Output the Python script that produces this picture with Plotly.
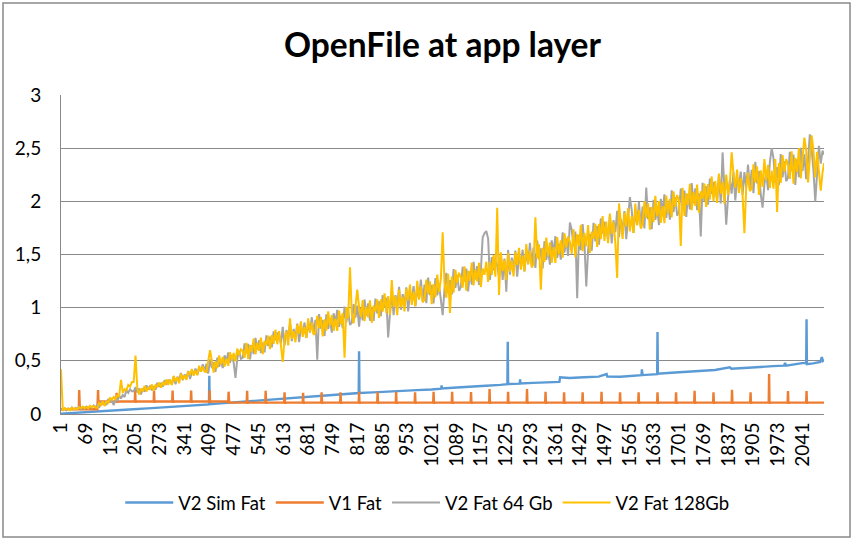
import plotly.graph_objects as go

# ---------------- data ----------------
tick_labels = ["1", "69", "137", "205", "273", "341", "409", "477", "545", "613",
               "681", "749", "817", "885", "953", "1021", "1089", "1157", "1225",
               "1293", "1361", "1429", "1497", "1565", "1633", "1701", "1769",
               "1837", "1905", "1973", "2041"]

# sample positions of the two noisy series (every 5th measurement + last)
noisy_x = list(range(1, 2097, 5)) + [2100]

yellow_128 = [
    0.42, 0.032, 0.055, 0.041, 0.051, 0.036, 0.06, 0.045, 0.055, 0.043, 0.064, 0.056, 0.07, 0.054, 0.066, 0.054, 0.078, 0.062, 0.075, 0.062,
    0.058, 0.103, 0.085, 0.118, 0.075, 0.12, 0.105, 0.155, 0.133, 0.16, 0.14, 0.175, 0.168, 0.32, 0.20, 0.233, 0.223, 0.273, 0.258, 0.30,
    0.30, 0.55, 0.24, 0.184, 0.238, 0.215, 0.265, 0.211, 0.254, 0.228, 0.278, 0.22, 0.271, 0.258, 0.295, 0.247, 0.301, 0.271, 0.325, 0.274,
    0.327, 0.271, 0.359, 0.307, 0.345, 0.289, 0.377, 0.326, 0.363, 0.321, 0.40, 0.366, 0.423, 0.361, 0.409, 0.366, 0.454, 0.398, 0.445, 0.398,
    0.395, 0.50, 0.60, 0.501, 0.389, 0.494, 0.431, 0.55, 0.467, 0.537, 0.446, 0.523, 0.453, 0.58, 0.503, 0.573, 0.496, 0.615, 0.553, 0.609,
    0.593, 0.528, 0.67, 0.515, 0.648, 0.584, 0.708, 0.562, 0.668, 0.594, 0.718, 0.563, 0.687, 0.649, 0.737, 0.61, 0.743, 0.66, 0.793, 0.656,
    0.78, 0.645, 0.49, 0.705, 0.78, 0.645, 0.90, 0.705, 0.78, 0.675, 0.84, 0.755, 0.87, 0.725, 0.82, 0.715, 0.90, 0.765, 0.86, 0.745,
    0.765, 0.924, 0.808, 0.912, 0.73, 0.889, 0.784, 0.965, 0.827, 0.931, 0.782, 0.897, 0.781, 0.973, 0.846, 0.95, 0.53, 1.004, 0.899, 1.38,
    0.944, 0.853, 1.039, 1.17, 1.001, 0.911, 1.072, 0.873, 1.01, 0.908, 1.069, 0.858, 1.02, 0.965, 1.078, 0.904, 1.077, 0.962, 1.135, 0.949,
    1.108, 0.932, 1.26, 1.008, 1.105, 0.929, 1.169, 1.006, 1.102, 0.965, 1.179, 1.068, 1.217, 1.027, 1.15, 1.013, 1.253, 1.077, 1.199, 1.049,
    1.075, 1.263, 1.126, 1.248, 1.033, 1.221, 1.097, 1.311, 1.147, 1.27, 1.71, 1.23, 1.093, 1.319, 0.95, 1.292, 1.142, 1.356, 1.231, 1.328,
    1.286, 1.188, 1.389, 1.16, 1.348, 1.25, 1.425, 1.21, 1.358, 1.247, 1.422, 1.194, 1.369, 1.309, 1.432, 1.243, 1.431, 1.307, 1.494, 1.292,
    1.94, 1.12, 1.521, 1.345, 1.448, 1.258, 1.515, 1.339, 1.442, 1.294, 1.523, 1.403, 1.562, 1.358, 1.489, 1.341, 1.598, 1.408, 1.539, 1.377,
    1.41, 1.85, 1.463, 1.595, 1.17, 1.564, 1.429, 1.659, 1.482, 1.614, 1.423, 1.569, 1.42, 1.664, 1.501, 1.633, 1.47, 1.70, 1.565, 1.669,
    1.62, 1.507, 1.738, 1.475, 1.692, 1.579, 1.78, 1.532, 1.704, 1.575, 1.777, 1.514, 1.715, 1.647, 1.789, 1.571, 1.787, 1.644, 1.861, 1.627,
    1.81, 1.607, 1.884, 1.695, 1.807, 1.604, 1.28, 1.98, 1.804, 1.646, 1.893, 1.765, 1.937, 1.718, 1.86, 1.702, 1.979, 1.776, 1.917, 1.744,
    1.785, 2.001, 1.842, 1.982, 1.733, 1.949, 1.805, 2.051, 1.861, 2.002, 1.798, 1.954, 1.795, 2.055, 1.881, 2.022, 1.848, 2.094, 1.949, 2.06,
    2.01, 1.58, 2.127, 1.862, 2.078, 1.964, 2.165, 1.916, 2.086, 1.957, 2.158, 1.894, 2.095, 2.025, 2.166, 1.947, 2.163, 2.019, 2.234, 2.00,
    2.19, 1.985, 2.261, 2.071, 2.181, 1.977, 2.252, 2.062, 2.172, 2.46, 2.258, 2.128, 2.299, 2.079, 2.219, 2.06, 1.70, 2.13, 2.27, 2.096,
    2.12, 2.349, 2.179, 2.328, 2.061, 2.291, 2.136, 2.397, 2.194, 2.344, 2.125, 2.29, 2.12, 2.397, 1.90, 2.36, 2.173, 2.434, 2.279, 2.397,
    2.344, 2.211, 2.47, 2.167, 2.409, 2.276, 2.50, 2.215, 2.405, 2.60, 2.48, 2.177, 2.402, 2.62, 2.477, 2.225, 2.466, 2.30, 2.10, 2.273,
    2.36,
]

gray_64 = [
    0.045, 0.035, 0.054, 0.034, 0.052, 0.044, 0.062, 0.043, 0.058, 0.048, 0.066, 0.046, 0.063, 0.059, 0.07, 0.054, 0.073, 0.062, 0.081, 0.063,
    0.085, 0.06, 0.115, 0.093, 0.11, 0.085, 0.14, 0.118, 0.125, 0.083, 0.138, 0.125, 0.173, 0.145, 0.178, 0.16, 0.225, 0.20, 0.233, 0.213,
    0.213, 0.252, 0.203, 0.24, 0.185, 0.239, 0.209, 0.27, 0.23, 0.266, 0.222, 0.262, 0.229, 0.293, 0.256, 0.293, 0.256, 0.317, 0.287, 0.316,
    0.309, 0.28, 0.355, 0.28, 0.35, 0.321, 0.386, 0.317, 0.372, 0.339, 0.404, 0.33, 0.396, 0.379, 0.427, 0.366, 0.436, 0.398, 0.467, 0.402,
    0.472, 0.381, 0.514, 0.431, 0.487, 0.396, 0.529, 0.445, 0.502, 0.432, 0.551, 0.495, 0.579, 0.482, 0.552, 0.482, 0.34, 0.524, 0.595, 0.518,
    0.53, 0.663, 0.571, 0.659, 0.513, 0.647, 0.564, 0.715, 0.605, 0.693, 0.574, 0.671, 0.579, 0.739, 0.638, 0.727, 0.626, 0.777, 0.694, 0.764,
    0.74, 0.665, 0.82, 0.645, 0.79, 0.715, 0.85, 0.685, 0.80, 0.715, 0.85, 0.675, 0.81, 0.765, 0.86, 0.715, 0.86, 0.765, 0.91, 0.755,
    0.886, 0.51, 0.94, 0.802, 0.884, 0.735, 0.938, 0.80, 0.882, 0.766, 0.947, 0.853, 0.979, 0.819, 0.923, 0.807, 1.01, 0.861, 0.965, 0.838,
    0.86, 1.033, 0.907, 1.02, 0.821, 0.995, 0.88, 1.077, 0.926, 1.04, 0.877, 1.002, 0.876, 1.085, 0.946, 1.06, 0.921, 1.118, 1.003, 1.093,
    0.72, 0.958, 1.159, 0.93, 1.118, 1.02, 1.195, 0.98, 1.128, 1.017, 1.192, 0.964, 1.139, 1.079, 1.202, 1.013, 1.201, 1.077, 1.264, 1.062,
    1.218, 1.042, 1.282, 1.118, 1.215, 1.039, 1.279, 1.116, 1.212, 1.075, 0.93, 1.178, 1.327, 1.137, 1.26, 1.123, 1.363, 1.187, 1.309, 1.159,
    1.195, 1.383, 1.246, 1.368, 1.153, 1.341, 1.217, 1.431, 1.267, 1.39, 1.214, 1.35, 1.66, 1.70, 1.72, 1.65, 1.262, 1.476, 1.351, 1.448,
    1.398, 1.292, 1.507, 1.261, 1.462, 1.15, 1.543, 1.311, 1.47, 1.35, 1.537, 1.291, 1.478, 1.414, 1.545, 1.341, 1.542, 1.408, 1.609, 1.391,
    1.564, 1.374, 1.631, 1.455, 1.558, 1.368, 1.625, 1.449, 1.552, 1.404, 1.633, 1.513, 1.672, 1.468, 1.599, 1.451, 1.708, 1.518, 1.649, 1.487,
    1.80, 1.732, 1.573, 1.715, 1.09, 1.684, 1.54, 1.787, 1.599, 1.20, 1.537, 1.694, 1.535, 1.797, 1.624, 1.766, 1.592, 1.839, 1.696, 1.807,
    1.75, 1.637, 1.869, 1.605, 1.822, 1.709, 1.911, 1.663, 1.834, 1.706, 1.908, 1.645, 1.847, 2.04, 1.92, 1.702, 1.919, 1.776, 1.992, 1.759,
    1.95, 1.746, 2.13, 1.832, 1.943, 1.739, 2.015, 1.826, 1.936, 1.777, 2.023, 1.894, 2.065, 1.845, 1.986, 1.827, 2.103, 1.899, 2.039, 1.865,
    1.905, 2.121, 1.962, 2.102, 1.853, 2.069, 1.925, 2.171, 1.981, 2.122, 1.918, 2.074, 1.67, 2.175, 2.001, 2.142, 1.968, 2.214, 2.069, 2.18,
    2.13, 2.015, 2.246, 1.981, 2.46, 2.082, 1.78, 2.032, 2.202, 2.073, 2.273, 2.008, 2.209, 2.139, 2.279, 2.06, 2.275, 2.13, 2.345, 2.111,
    2.296, 2.077, 2.371, 2.168, 2.285, 2.067, 1.94, 2.157, 2.274, 2.104, 2.365, 2.50, 2.408, 2.173, 2.322, 2.152, 2.445, 2.226, 2.375, 2.189,
    2.225, 2.466, 2.283, 2.439, 2.154, 2.395, 2.228, 2.504, 2.286, 2.443, 2.208, 2.381, 2.63, 2.49, 2.29, 2.00, 2.245, 2.521, 2.354, 2.477,
    2.44,
]

blue_x = [1, 40, 80, 120, 160, 200, 240, 280, 320, 360, 400, 408, 409, 410,
          440, 480, 520, 560, 600, 640, 680, 720, 760, 800, 820, 821, 822,
          860, 900, 940, 980, 1020, 1047, 1048, 1049, 1090, 1130, 1170, 1210,
          1229, 1230, 1231, 1263, 1264, 1265, 1300, 1340, 1372, 1374, 1400,
          1440, 1480, 1502, 1504, 1540, 1570, 1598, 1599, 1601, 1641, 1642,
          1643, 1680, 1720, 1760, 1800, 1841, 1845, 1880, 1920, 1960, 1990,
          1993, 1996, 2020, 2040, 2051, 2052, 2053, 2070, 2090, 2094, 2097, 2100]
blue_sim = [0.003, 0.010, 0.018, 0.027, 0.034, 0.045, 0.053, 0.062, 0.070, 0.080,
            0.087, 0.090, 0.360, 0.092, 0.100, 0.110, 0.119, 0.128, 0.137, 0.147,
            0.155, 0.166, 0.175, 0.190, 0.197, 0.590, 0.198, 0.203, 0.212, 0.216,
            0.225, 0.231, 0.238, 0.270, 0.240, 0.249, 0.255, 0.266, 0.274, 0.280,
            0.680, 0.282, 0.286, 0.325, 0.288, 0.293, 0.297, 0.302, 0.345, 0.338,
            0.346, 0.351, 0.375, 0.352, 0.350, 0.360, 0.365, 0.420, 0.366, 0.375,
            0.770, 0.378, 0.388, 0.397, 0.406, 0.414, 0.440, 0.425, 0.433, 0.444,
            0.450, 0.455, 0.480, 0.455, 0.470, 0.478, 0.480, 0.890, 0.468, 0.476,
            0.490, 0.535, 0.500, 0.510]

# V1 Fat: piecewise baseline + periodic spikes
orange_seg_start = [1, 102, 461]
orange_seg_end = [101, 460, 2100]
orange_seg_level = [0.045, 0.118, 0.107]
orange_spike_pos = [51, 103, 154, 205, 257, 308, 359, 410, 462, 513, 564, 616, 667,
                    718, 770, 821, 872, 923, 975, 1026, 1077, 1129, 1180, 1231,
                    1283, 1334, 1385, 1436, 1488, 1539, 1590, 1642, 1693, 1744,
                    1796, 1847, 1898, 1949, 2001, 2052]
orange_spike_val = [0.226, 0.226, 0.20, 0.226, 0.22, 0.22, 0.22, 0.222, 0.21, 0.218,
                    0.218, 0.205, 0.20, 0.205, 0.205, 0.21, 0.208, 0.208, 0.205, 0.21,
                    0.21, 0.207, 0.235, 0.21, 0.235, 0.21, 0.205, 0.205, 0.21, 0.205,
                    0.205, 0.205, 0.205, 0.218, 0.205, 0.227, 0.205, 0.376, 0.215, 0.215]

# ---------------- build orange polyline ----------------
def orange_level(i):
    for s, e, v in zip(orange_seg_start, orange_seg_end, orange_seg_level):
        if s <= i <= e:
            return v
    return orange_seg_level[-1]

pts = {}
for s, e, v in zip(orange_seg_start, orange_seg_end, orange_seg_level):
    pts[s] = v
    pts[e] = v
for p, h in zip(orange_spike_pos, orange_spike_val):
    b = orange_level(p)
    pts[p - 1] = b
    pts[p] = h
    pts[p + 1] = b
    pts[p + 2] = b - 0.01
    pts[p + 3] = b
orange_x = sorted(pts)
orange_y = [pts[k] for k in orange_x]

# ---------------- figure ----------------
FONT = "Lato"
fig = go.Figure()
fig.add_trace(go.Scatter(x=blue_x, y=blue_sim, mode="lines", name="V2 Sim Fat",
                         line=dict(color="#5B9BD5", width=2.4)))
fig.add_trace(go.Scatter(x=orange_x, y=orange_y, mode="lines", name="V1 Fat",
                         line=dict(color="#ED7D31", width=2.4)))
fig.add_trace(go.Scatter(x=noisy_x[:len(gray_64)], y=gray_64, mode="lines",
                         name="V2 Fat 64 Gb", line=dict(color="#A5A5A5", width=2)))
fig.add_trace(go.Scatter(x=noisy_x[:len(yellow_128)], y=yellow_128, mode="lines",
                         name="V2 Fat 128Gb", line=dict(color="#FFC000", width=2)))

fig.update_layout(
    width=853, height=542,
    margin=dict(l=61, r=29, t=95, b=128),
    paper_bgcolor="white", plot_bgcolor="white",
    separators=",.",
    font=dict(family=FONT, size=18, color="#000000"),
    title=dict(text="<b>OpenFile at app layer</b>", x=0.5, xanchor="center",
               y=1 - 45 / 542, yanchor="middle", xref="paper",
               font=dict(family=FONT, size=33.5, color="#000000")),
    showlegend=True,
    legend=dict(orientation="h", x=0.48, xanchor="center", y=-0.279, yanchor="middle",
                font=dict(family=FONT, size=18.5), tracegroupgap=0, itemwidth=48),
    xaxis=dict(range=[1, 2100], tickmode="array",
               tickvals=[int(t) for t in tick_labels], ticktext=tick_labels,
               tickangle=-90, showgrid=False, zeroline=False, automargin=False,
               showline=True, linecolor="#898989", linewidth=1,
               ticks="", tickfont=dict(family=FONT, size=19)),
    yaxis=dict(range=[0, 3], tickvals=[0, 0.5, 1, 1.5, 2, 2.5, 3],
               showgrid=True, gridcolor="#898989", gridwidth=1, automargin=False,
               zeroline=False, showline=True, linecolor="#898989", linewidth=1,
               ticks="", tickfont=dict(family=FONT, size=19)),
)
fig.update_yaxes(ticklabelstandoff=15)

# outer chart border
fig.add_shape(type="rect", xref="paper", yref="paper",
              x0=(3 - 61) / 763, x1=(850 - 61) / 763,
              y0=-(537 - 414) / 319, y1=1 + (95 - 3) / 319,
              line=dict(color="#898989", width=1.5), fillcolor="rgba(0,0,0,0)",
              layer="below")

fig.write_html("out.html", config={"displayModeBar": False},
               post_script="document.body.style.margin='0';document.body.style.overflow='hidden';")
